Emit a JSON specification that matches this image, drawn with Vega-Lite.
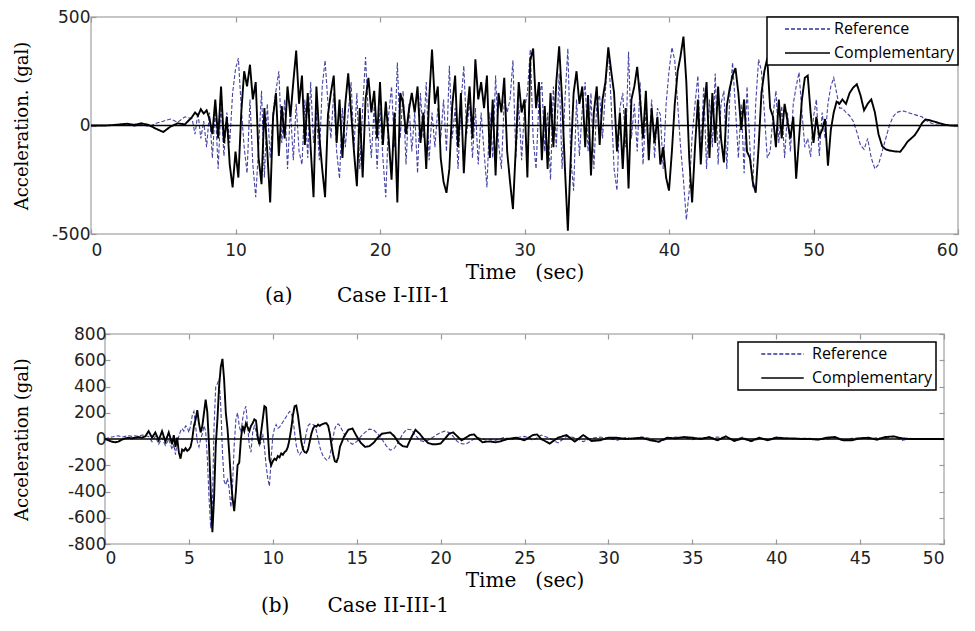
{
"$schema": "https://vega.github.io/schema/vega-lite/v6.json",
"background": "white",
"padding": {"left": 12, "top": 7, "right": 0, "bottom": 0},
"config": {
 "view": {"stroke": "#b4b4b4", "strokeWidth": 1.5},
 "axis": {"labelFont": "DejaVu Sans", "labelFontSize": 17, "labelColor": "#222", "titleFont": "DejaVu Serif", "titleFontSize": 18, "titleFontWeight": "normal", "titleColor": "#000", "grid": false, "domain": false, "tickColor": "#999", "tickWidth": 1.2},
 "legend": {"title": null, "orient": "top-right", "strokeColor": "black", "strokeWidth": 1.5, "fillColor": "white", "padding": 3, "symbolType": "stroke", "symbolStrokeWidth": 1.6, "labelFont": "Open Sans", "labelFontSize": 16, "labelColor": "black", "rowPadding": 6, "clipHeight": 18}
},
"datasets": {
"top": [
{"t":0,"r":0,"c":0},{"t":0.5,"r":0,"c":0},{"t":1,"r":0,"c":0},{"t":1.5,"r":0,"c":2},{"t":2,"r":2,"c":5},{"t":2.5,"r":3,"c":8},{"t":3,"r":-3,"c":3},{"t":3.5,"r":5,"c":10},{"t":4,"r":-5,"c":2},{"t":4.5,"r":10,"c":-15},{"t":5,"r":20,"c":-30},{"t":5.5,"r":30,"c":-5},{"t":6,"r":15,"c":10},{"t":6.5,"r":40,"c":5},
{"t":7,"r":30,"c":40},{"t":7.2,"r":-40,"c":60},{"t":7.4,"r":60,"c":45},{"t":7.6,"r":-60,"c":75},{"t":7.8,"r":20,"c":55},
{"t":8,"r":-100,"c":70},{"t":8.2,"r":60,"c":30},{"t":8.4,"r":-150,"c":-40},{"t":8.6,"r":80,"c":120},{"t":8.8,"r":-200,"c":-60},
{"t":9,"r":100,"c":180},{"t":9.2,"r":-140,"c":-80},{"t":9.4,"r":60,"c":40},{"t":9.6,"r":-80,"c":-180},{"t":9.8,"r":150,"c":-285},
{"t":10,"r":260,"c":-120},{"t":10.2,"r":310,"c":-240},{"t":10.4,"r":80,"c":60},{"t":10.6,"r":-100,"c":250},{"t":10.8,"r":-220,"c":180},
{"t":11,"r":120,"c":280},{"t":11.2,"r":-180,"c":120},{"t":11.4,"r":-330,"c":200},{"t":11.6,"r":-100,"c":-150},{"t":11.8,"r":160,"c":-270},
{"t":12,"r":-240,"c":80},{"t":12.2,"r":100,"c":-120},{"t":12.4,"r":-150,"c":-355},{"t":12.6,"r":60,"c":40},{"t":12.8,"r":160,"c":150},
{"t":13,"r":250,"c":-140},{"t":13.2,"r":-80,"c":90},{"t":13.4,"r":120,"c":-60},{"t":13.6,"r":-200,"c":180},{"t":13.8,"r":80,"c":40},
{"t":14,"r":-160,"c":200},{"t":14.2,"r":100,"c":345},{"t":14.4,"r":-120,"c":100},{"t":14.6,"r":-180,"c":230},{"t":14.8,"r":120,"c":-90},
{"t":15,"r":-150,"c":150},{"t":15.2,"r":200,"c":-100},{"t":15.4,"r":-80,"c":-330},{"t":15.6,"r":60,"c":180},{"t":15.8,"r":-160,"c":-50},
{"t":16,"r":180,"c":-200},{"t":16.2,"r":300,"c":-330},{"t":16.4,"r":100,"c":50},{"t":16.6,"r":-60,"c":150},{"t":16.8,"r":150,"c":230},
{"t":17,"r":-120,"c":-80},{"t":17.2,"r":-245,"c":120},{"t":17.4,"r":80,"c":-150},{"t":17.6,"r":-100,"c":100},{"t":17.8,"r":60,"c":240},
{"t":18,"r":200,"c":60},{"t":18.2,"r":-100,"c":-120},{"t":18.4,"r":150,"c":-280},{"t":18.6,"r":-200,"c":80},{"t":18.8,"r":80,"c":-240},
{"t":19,"r":315,"c":120},{"t":19.2,"r":40,"c":220},{"t":19.4,"r":-150,"c":60},{"t":19.6,"r":90,"c":160},{"t":19.8,"r":-200,"c":-60},
{"t":20,"r":80,"c":200},{"t":20.2,"r":-150,"c":-90},{"t":20.4,"r":-330,"c":110},{"t":20.6,"r":50,"c":-60},{"t":20.8,"r":180,"c":-250},
{"t":21,"r":-100,"c":60},{"t":21.2,"r":290,"c":-355},{"t":21.4,"r":-60,"c":150},{"t":21.6,"r":160,"c":100},{"t":21.8,"r":-180,"c":-40},
{"t":22,"r":100,"c":70},{"t":22.2,"r":-120,"c":150},{"t":22.4,"r":60,"c":60},{"t":22.6,"r":-220,"c":180},{"t":22.8,"r":150,"c":-80},
{"t":23,"r":-60,"c":60},{"t":23.2,"r":200,"c":-200},{"t":23.4,"r":-160,"c":120},{"t":23.6,"r":60,"c":350},{"t":23.8,"r":-100,"c":100},
{"t":24,"r":80,"c":180},{"t":24.2,"r":-60,"c":-150},{"t":24.4,"r":120,"c":-260},{"t":24.6,"r":-120,"c":-310},{"t":24.8,"r":275,"c":-200},
{"t":25,"r":-60,"c":90},{"t":25.2,"r":80,"c":230},{"t":25.4,"r":-200,"c":-100},{"t":25.6,"r":100,"c":150},{"t":25.8,"r":275,"c":-220},
{"t":26,"r":-40,"c":30},{"t":26.2,"r":120,"c":180},{"t":26.4,"r":-150,"c":-60},{"t":26.6,"r":80,"c":305},{"t":26.8,"r":-180,"c":120},
{"t":27,"r":60,"c":200},{"t":27.2,"r":-120,"c":80},{"t":27.4,"r":-285,"c":230},{"t":27.6,"r":60,"c":-150},{"t":27.8,"r":-150,"c":120},
{"t":28,"r":230,"c":-230},{"t":28.2,"r":-80,"c":150},{"t":28.4,"r":-200,"c":60},{"t":28.6,"r":120,"c":220},{"t":28.8,"r":60,"c":-120},
{"t":29,"r":120,"c":-260},{"t":29.2,"r":300,"c":-385},{"t":29.4,"r":-150,"c":-100},{"t":29.6,"r":100,"c":200},{"t":29.8,"r":-160,"c":60},
{"t":30,"r":80,"c":120},{"t":30.2,"r":150,"c":-240},{"t":30.4,"r":350,"c":300},{"t":30.6,"r":-60,"c":355},{"t":30.8,"r":-200,"c":80},
{"t":31,"r":120,"c":200},{"t":31.2,"r":200,"c":-160},{"t":31.4,"r":-120,"c":90},{"t":31.6,"r":60,"c":-200},{"t":31.8,"r":-250,"c":150},
{"t":32,"r":180,"c":-100},{"t":32.2,"r":-100,"c":200},{"t":32.4,"r":240,"c":365},{"t":32.6,"r":-200,"c":120},{"t":32.8,"r":120,"c":-200},
{"t":33,"r":355,"c":-485},{"t":33.2,"r":-150,"c":-150},{"t":33.4,"r":-300,"c":150},{"t":33.6,"r":120,"c":250},{"t":33.8,"r":-140,"c":100},
{"t":34,"r":80,"c":180},{"t":34.2,"r":200,"c":-100},{"t":34.4,"r":-120,"c":140},{"t":34.6,"r":150,"c":-230},{"t":34.8,"r":-200,"c":60},
{"t":35,"r":100,"c":180},{"t":35.2,"r":140,"c":-90},{"t":35.4,"r":-60,"c":120},{"t":35.6,"r":160,"c":200},{"t":35.8,"r":355,"c":360},
{"t":36,"r":100,"c":250},{"t":36.2,"r":-200,"c":150},{"t":36.4,"r":-300,"c":-120},{"t":36.6,"r":80,"c":60},{"t":36.8,"r":150,"c":-200},
{"t":37,"r":-100,"c":80},{"t":37.2,"r":340,"c":-290},{"t":37.4,"r":-60,"c":120},{"t":37.6,"r":100,"c":180},{"t":37.8,"r":-120,"c":270},
{"t":38,"r":200,"c":120},{"t":38.2,"r":-180,"c":-60},{"t":38.4,"r":60,"c":160},{"t":38.6,"r":-100,"c":-160},{"t":38.8,"r":120,"c":80},
{"t":39,"r":-150,"c":-80},{"t":39.2,"r":80,"c":40},{"t":39.4,"r":50,"c":-180},{"t":39.6,"r":-200,"c":-100},{"t":39.8,"r":100,"c":-240},
{"t":40,"r":250,"c":-300},{"t":40.2,"r":360,"c":-120},{"t":40.4,"r":300,"c":100},{"t":40.6,"r":100,"c":250},{"t":40.8,"r":-100,"c":320},
{"t":41,"r":-250,"c":410},{"t":41.2,"r":-435,"c":200},{"t":41.4,"r":-300,"c":-150},{"t":41.6,"r":-50,"c":-355},{"t":41.8,"r":100,"c":-100},
{"t":42,"r":230,"c":120},{"t":42.2,"r":-140,"c":-180},{"t":42.4,"r":180,"c":60},{"t":42.6,"r":-200,"c":200},{"t":42.8,"r":120,"c":-150},
{"t":43,"r":-100,"c":150},{"t":43.2,"r":240,"c":-80},{"t":43.4,"r":-180,"c":180},{"t":43.6,"r":100,"c":-60},{"t":43.8,"r":160,"c":-170},
{"t":44,"r":-200,"c":90},{"t":44.2,"r":120,"c":170},{"t":44.4,"r":290,"c":230},{"t":44.6,"r":80,"c":265},{"t":44.8,"r":-150,"c":150},
{"t":45,"r":100,"c":-20},{"t":45.2,"r":-220,"c":120},{"t":45.4,"r":180,"c":-120},{"t":45.6,"r":-100,"c":-150},{"t":45.8,"r":-285,"c":-260},
{"t":46,"r":100,"c":-310},{"t":46.2,"r":305,"c":-100},{"t":46.4,"r":250,"c":150},{"t":46.6,"r":60,"c":250},{"t":46.8,"r":-150,"c":310},
{"t":47,"r":-120,"c":80},{"t":47.2,"r":50,"c":40},{"t":47.4,"r":160,"c":-100},{"t":47.6,"r":-80,"c":120},{"t":47.8,"r":90,"c":-60},
{"t":48,"r":-150,"c":100},{"t":48.2,"r":60,"c":20},{"t":48.4,"r":-120,"c":-60},{"t":48.6,"r":100,"c":40},{"t":48.8,"r":180,"c":-245},
{"t":49,"r":245,"c":-60},{"t":49.2,"r":60,"c":120},{"t":49.4,"r":-100,"c":220},{"t":49.6,"r":-60,"c":230},{"t":49.8,"r":-145,"c":60},
{"t":50,"r":40,"c":-80},{"t":50.2,"r":120,"c":40},{"t":50.4,"r":-140,"c":-50},{"t":50.6,"r":60,"c":-20},{"t":50.8,"r":-60,"c":30},
{"t":51,"r":100,"c":-185},{"t":51.2,"r":180,"c":-20},{"t":51.4,"r":220,"c":60},{"t":51.6,"r":150,"c":110},{"t":51.8,"r":80,"c":100},
{"t":52,"r":80,"c":120},{"t":52.25,"r":60,"c":100},{"t":52.5,"r":45,"c":150},{"t":52.75,"r":20,"c":175},{"t":53,"r":-30,"c":190},
{"t":53.25,"r":-90,"c":140},{"t":53.5,"r":-110,"c":70},{"t":53.75,"r":-60,"c":100},{"t":54,"r":-150,"c":120},{"t":54.25,"r":-200,"c":60},
{"t":54.5,"r":-180,"c":-40},{"t":54.75,"r":-120,"c":-95},{"t":55,"r":-60,"c":-110},{"t":55.25,"r":0,"c":-115},{"t":55.5,"r":40,"c":-118},
{"t":55.75,"r":60,"c":-120},{"t":56,"r":65,"c":-121},{"t":56.25,"r":67,"c":-100},{"t":56.5,"r":60,"c":-75},{"t":56.75,"r":55,"c":-60},
{"t":57,"r":50,"c":-45},{"t":57.25,"r":45,"c":-20},{"t":57.5,"r":40,"c":10},{"t":57.75,"r":25,"c":28},{"t":58,"r":15,"c":25},
{"t":58.25,"r":8,"c":20},{"t":58.5,"r":3,"c":15},{"t":58.75,"r":0,"c":10},{"t":59,"r":0,"c":5},{"t":59.25,"r":0,"c":2},
{"t":59.5,"r":0,"c":0},{"t":59.75,"r":0,"c":0},{"t":60,"r":0,"c":0}
],
"bot": [
{"t":0,"r":0,"c":0},{"t":0.2,"r":10,"c":-10},{"t":0.4,"r":15,"c":-20},{"t":0.6,"r":20,"c":-25},{"t":0.8,"r":25,"c":-20},
{"t":1,"r":15,"c":-5},{"t":1.2,"r":20,"c":5},{"t":1.4,"r":25,"c":10},{"t":1.6,"r":20,"c":5},{"t":1.8,"r":25,"c":10},
{"t":2,"r":20,"c":15},{"t":2.2,"r":30,"c":10},{"t":2.4,"r":25,"c":20},{"t":2.6,"r":20,"c":60},{"t":2.8,"r":-20,"c":10},
{"t":3,"r":20,"c":50},{"t":3.2,"r":-40,"c":-10},{"t":3.4,"r":10,"c":60},{"t":3.6,"r":-50,"c":-20},{"t":3.8,"r":0,"c":50},
{"t":4,"r":-80,"c":-40},{"t":4.1,"r":-40,"c":30},{"t":4.2,"r":-120,"c":-60},{"t":4.3,"r":-20,"c":10},{"t":4.4,"r":20,"c":-100},
{"t":4.5,"r":60,"c":-150},{"t":4.6,"r":80,"c":-80},{"t":4.7,"r":60,"c":-90},{"t":4.8,"r":100,"c":-70},{"t":4.9,"r":90,"c":-90},
{"t":5,"r":50,"c":-80},{"t":5.1,"r":100,"c":-60},{"t":5.2,"r":180,"c":0},{"t":5.3,"r":210,"c":100},{"t":5.4,"r":100,"c":150},
{"t":5.5,"r":-20,"c":220},{"t":5.6,"r":-60,"c":120},{"t":5.7,"r":0,"c":50},{"t":5.8,"r":40,"c":100},{"t":5.9,"r":100,"c":200},
{"t":6,"r":60,"c":300},{"t":6.1,"r":-150,"c":200},{"t":6.2,"r":-450,"c":-50},{"t":6.3,"r":-680,"c":-400},{"t":6.4,"r":-500,"c":-710},
{"t":6.5,"r":100,"c":-450},{"t":6.6,"r":400,"c":-50},{"t":6.7,"r":420,"c":150},{"t":6.8,"r":460,"c":400},{"t":6.9,"r":250,"c":550},
{"t":7,"r":-100,"c":610},{"t":7.1,"r":-320,"c":450},{"t":7.2,"r":-350,"c":200},{"t":7.3,"r":-300,"c":80},{"t":7.4,"r":-380,"c":-100},
{"t":7.5,"r":-520,"c":-300},{"t":7.6,"r":-350,"c":-450},{"t":7.7,"r":-50,"c":-550},{"t":7.8,"r":150,"c":-400},{"t":7.9,"r":200,"c":-200},
{"t":8,"r":100,"c":-180},{"t":8.1,"r":50,"c":0},{"t":8.2,"r":150,"c":100},{"t":8.3,"r":220,"c":60},{"t":8.4,"r":250,"c":120},
{"t":8.5,"r":100,"c":90},{"t":8.6,"r":-50,"c":60},{"t":8.7,"r":-100,"c":100},{"t":8.8,"r":50,"c":120},{"t":8.9,"r":100,"c":150},
{"t":9,"r":60,"c":140},{"t":9.1,"r":0,"c":20},{"t":9.2,"r":-50,"c":-40},{"t":9.3,"r":-20,"c":50},{"t":9.4,"r":40,"c":150},
{"t":9.5,"r":-60,"c":250},{"t":9.6,"r":-200,"c":240},{"t":9.7,"r":-300,"c":50},{"t":9.8,"r":-360,"c":-150},{"t":9.9,"r":-150,"c":-200},
{"t":10,"r":20,"c":-170},{"t":10.1,"r":80,"c":-150},{"t":10.2,"r":110,"c":-160},{"t":10.3,"r":80,"c":-130},{"t":10.4,"r":90,"c":-140},
{"t":10.5,"r":110,"c":-110},{"t":10.6,"r":130,"c":-120},{"t":10.7,"r":150,"c":-100},{"t":10.8,"r":170,"c":-90},{"t":10.9,"r":190,"c":-60},
{"t":11,"r":210,"c":0},{"t":11.1,"r":200,"c":80},{"t":11.2,"r":150,"c":180},{"t":11.3,"r":50,"c":250},{"t":11.4,"r":-50,"c":255},
{"t":11.5,"r":-100,"c":180},{"t":11.6,"r":-120,"c":80},{"t":11.7,"r":-100,"c":-20},{"t":11.8,"r":-80,"c":-80},{"t":11.9,"r":-20,"c":-100},
{"t":12,"r":50,"c":-105},{"t":12.1,"r":100,"c":-80},{"t":12.2,"r":115,"c":-20},{"t":12.3,"r":110,"c":40},{"t":12.4,"r":110,"c":80},
{"t":12.5,"r":100,"c":100},{"t":12.6,"r":60,"c":95},{"t":12.7,"r":0,"c":110},{"t":12.8,"r":-60,"c":100},{"t":12.9,"r":-100,"c":110},
{"t":13,"r":-130,"c":115},{"t":13.1,"r":-145,"c":120},{"t":13.2,"r":-160,"c":120},{"t":13.3,"r":-160,"c":100},{"t":13.4,"r":-130,"c":40},
{"t":13.5,"r":-60,"c":-50},{"t":13.6,"r":20,"c":-120},{"t":13.7,"r":80,"c":-170},{"t":13.8,"r":110,"c":-175},{"t":13.9,"r":115,"c":-140},
{"t":14,"r":100,"c":-60},{"t":14.25,"r":40,"c":20},{"t":14.5,"r":-20,"c":70},{"t":14.75,"r":-40,"c":80},{"t":15,"r":-20,"c":20},
{"t":15.25,"r":20,"c":-30},{"t":15.5,"r":50,"c":-60},{"t":15.75,"r":75,"c":-55},{"t":16,"r":70,"c":-30},{"t":16.25,"r":40,"c":10},
{"t":16.5,"r":0,"c":40},{"t":16.75,"r":-50,"c":45},{"t":17,"r":-85,"c":50},{"t":17.25,"r":-70,"c":20},{"t":17.5,"r":-20,"c":-30},
{"t":17.75,"r":40,"c":-55},{"t":18,"r":75,"c":-60},{"t":18.25,"r":70,"c":10},{"t":18.5,"r":30,"c":70},{"t":18.75,"r":-10,"c":40},
{"t":19,"r":-20,"c":0},{"t":19.25,"r":-10,"c":-30},{"t":19.5,"r":10,"c":-40},{"t":19.75,"r":30,"c":-40},{"t":20,"r":50,"c":-35},
{"t":20.25,"r":60,"c":0},{"t":20.5,"r":50,"c":40},{"t":20.75,"r":20,"c":50},{"t":21,"r":-20,"c":20},{"t":21.25,"r":-35,"c":-10},
{"t":21.5,"r":-40,"c":10},{"t":21.75,"r":-20,"c":30},{"t":22,"r":0,"c":35},{"t":22.25,"r":10,"c":0},{"t":22.5,"r":0,"c":-25},
{"t":22.75,"r":-10,"c":-20},{"t":23,"r":-5,"c":-20},{"t":23.25,"r":-10,"c":-25},{"t":23.5,"r":0,"c":-20},{"t":23.75,"r":10,"c":-10},
{"t":24,"r":5,"c":0},{"t":24.25,"r":-5,"c":5},{"t":24.5,"r":10,"c":10},{"t":24.75,"r":15,"c":0},{"t":25,"r":20,"c":-10},
{"t":25.25,"r":10,"c":10},{"t":25.5,"r":-10,"c":30},{"t":25.75,"r":10,"c":35},{"t":26,"r":30,"c":0},{"t":26.5,"r":5,"c":-35},
{"t":27,"r":-30,"c":10},{"t":27.5,"r":20,"c":30},{"t":28,"r":10,"c":-20},{"t":28.5,"r":-20,"c":30},{"t":29,"r":5,"c":-15},
{"t":29.5,"r":15,"c":-10},{"t":30,"r":5,"c":10},{"t":30.5,"r":-10,"c":10},{"t":31,"r":10,"c":0},{"t":31.5,"r":0,"c":5},
{"t":32,"r":15,"c":10},{"t":32.5,"r":5,"c":-10},{"t":33,"r":-25,"c":-20},{"t":33.5,"r":0,"c":10},{"t":34,"r":15,"c":5},
{"t":34.5,"r":10,"c":15},{"t":35,"r":-5,"c":10},{"t":35.5,"r":10,"c":0},{"t":36,"r":5,"c":15},{"t":36.5,"r":15,"c":-10},
{"t":37,"r":10,"c":20},{"t":37.5,"r":-5,"c":-15},{"t":38,"r":15,"c":5},{"t":38.5,"r":-20,"c":-15},{"t":39,"r":0,"c":10},
{"t":39.5,"r":-5,"c":-10},{"t":40,"r":15,"c":10},{"t":40.5,"r":10,"c":5},{"t":41,"r":0,"c":5},{"t":41.5,"r":5,"c":0},
{"t":42,"r":5,"c":0},{"t":42.5,"r":-5,"c":-5},{"t":43,"r":0,"c":10},{"t":43.5,"r":10,"c":15},{"t":44,"r":-15,"c":-10},
{"t":44.5,"r":5,"c":-10},{"t":45,"r":10,"c":5},{"t":45.5,"r":0,"c":10},{"t":46,"r":10,"c":-5},{"t":46.5,"r":5,"c":15},
{"t":47,"r":20,"c":20},{"t":47.5,"r":-10,"c":5},{"t":48,"r":5,"c":0},{"t":48.5,"r":0,"c":0},{"t":49,"r":0,"c":0},
{"t":49.5,"r":0,"c":0},{"t":50,"r":0,"c":0}
]
},
"spacing": 100,
"bounds": "flush",
"center": true,
"vconcat": [
{
 "width": 867, "height": 217,
 "title": {"text": "(a)\u00a0\u00a0\u00a0\u00a0\u00a0\u00a0\u00a0Case I-III-1", "orient": "bottom", "anchor": "start", "frame": "group", "dx": 174, "offset": 4, "font": "DejaVu Serif", "fontSize": 20, "fontWeight": "normal", "color": "#000"},
 "layer": [
  {
   "data": {"name": "top"},
   "transform": [{"fold": ["r", "c"], "as": ["s", "a"]}, {"filter": "datum.s == 'r'"}],
   "mark": {"type": "line", "strokeWidth": 1.1, "strokeOpacity": 0.9},
   "encoding": {
    "x": {"field": "t", "type": "quantitative", "scale": {"domain": [0, 60], "nice": false}, "axis": {"orient": "bottom", "values": [0,10,20,30,40,50,60], "title": "Time\u00a0\u00a0\u00a0(sec)", "titleFontSize": 20, "tickSize": -5, "labelPadding": 13, "titlePadding": 4}},
    "y": {"field": "a", "type": "quantitative", "scale": {"domain": [-500, 500], "nice": false}, "axis": {"orient": "left", "values": [-500, 0, 500], "labelExpr": "'' + datum.value", "title": "Acceleration. (gal)", "tickSize": -5, "labelPadding": 6, "titlePadding": 20}},
    "stroke": {"field": "s", "type": "nominal", "scale": {"domain": ["r", "c"], "range": ["#30309a", "#000000"]}, "legend": {"offset": 0, "symbolSize": 2025, "symbolOffset": 14, "labelOffset": 3, "labelExpr": "datum.label == 'r' ? 'Reference' : 'Complementary'"}},
    "strokeDash": {"field": "s", "type": "nominal", "scale": {"domain": ["r", "c"], "range": [[4, 2], [1, 0]]}, "legend": {"offset": 0, "symbolSize": 2025, "symbolOffset": 14, "labelOffset": 3, "labelExpr": "datum.label == 'r' ? 'Reference' : 'Complementary'"}}
   }
  },
  {
   "data": {"name": "top"},
   "transform": [{"fold": ["r", "c"], "as": ["s", "a"]}, {"filter": "datum.s == 'c'"}],
   "mark": {"type": "line", "strokeWidth": 1.9},
   "encoding": {
    "x": {"field": "t", "type": "quantitative", "axis": {"orient": "top", "values": [0,10,20,30,40,50,60], "labels": false, "title": null, "tickSize": -5}},
    "y": {"field": "a", "type": "quantitative", "axis": {"orient": "right", "values": [-500, 0, 500], "labels": false, "title": null, "tickSize": -5}},
    "stroke": {"field": "s", "type": "nominal"},
    "strokeDash": {"field": "s", "type": "nominal"}
   }
  },
  {
   "data": {"values": [{}]},
   "mark": {"type": "rule", "color": "#000", "strokeWidth": 1.3},
   "encoding": {"y": {"datum": 0, "type": "quantitative", "axis": null}}
  }
 ],
 "resolve": {"axis": {"x": "independent", "y": "independent"}}
},
{
 "width": 839, "height": 210,
 "title": {"text": "(b)\u00a0\u00a0\u00a0\u00a0\u00a0\u00a0Case II-III-1", "orient": "bottom", "anchor": "start", "frame": "group", "dx": 156, "offset": 6, "font": "DejaVu Serif", "fontSize": 20, "fontWeight": "normal", "color": "#000"},
 "layer": [
  {
   "data": {"name": "bot"},
   "transform": [{"fold": ["r", "c"], "as": ["s", "a"]}, {"filter": "datum.s == 'r'"}],
   "mark": {"type": "line", "strokeWidth": 1.1, "strokeOpacity": 0.9},
   "encoding": {
    "x": {"field": "t", "type": "quantitative", "scale": {"domain": [0, 50], "nice": false}, "axis": {"orient": "bottom", "values": [0,5,10,15,20,25,30,35,40,45,50], "title": "Time\u00a0\u00a0\u00a0(sec)", "titleFontSize": 20, "tickSize": -5, "labelPadding": 11, "titlePadding": 4}},
    "y": {"field": "a", "type": "quantitative", "scale": {"domain": [-800, 800], "nice": false}, "axis": {"orient": "left", "values": [-800,-600,-400,-200,0,200,400,600,800], "labelExpr": "'' + datum.value", "title": "Acceleration (gal)", "tickSize": -5, "labelPadding": 4, "titlePadding": 36}},
    "stroke": {"field": "s", "type": "nominal", "scale": {"domain": ["r", "c"], "range": ["#30309a", "#000000"]}, "legend": {"offset": 8, "symbolSize": 1800, "symbolOffset": 19, "labelOffset": 7, "labelExpr": "datum.label == 'r' ? 'Reference' : 'Complementary'"}},
    "strokeDash": {"field": "s", "type": "nominal", "scale": {"domain": ["r", "c"], "range": [[4, 2], [1, 0]]}, "legend": {"offset": 8, "symbolSize": 1800, "symbolOffset": 19, "labelOffset": 7, "labelExpr": "datum.label == 'r' ? 'Reference' : 'Complementary'"}}
   }
  },
  {
   "data": {"name": "bot"},
   "transform": [{"fold": ["r", "c"], "as": ["s", "a"]}, {"filter": "datum.s == 'c'"}],
   "mark": {"type": "line", "strokeWidth": 1.9},
   "encoding": {
    "x": {"field": "t", "type": "quantitative", "axis": {"orient": "top", "values": [0,5,10,15,20,25,30,35,40,45,50], "labels": false, "title": null, "tickSize": -5}},
    "y": {"field": "a", "type": "quantitative", "axis": {"orient": "right", "values": [-800,-600,-400,-200,0,200,400,600,800], "labels": false, "title": null, "tickSize": -5}},
    "stroke": {"field": "s", "type": "nominal"},
    "strokeDash": {"field": "s", "type": "nominal"}
   }
  },
  {
   "data": {"values": [{}]},
   "mark": {"type": "rule", "color": "#000", "strokeWidth": 1.3},
   "encoding": {"y": {"datum": 0, "type": "quantitative", "axis": null}}
  }
 ],
 "resolve": {"axis": {"x": "independent", "y": "independent"}}
}
],
"resolve": {"scale": {"x": "independent", "y": "independent", "stroke": "independent", "strokeDash": "independent"}, "legend": {"stroke": "independent", "strokeDash": "independent"}}
}
